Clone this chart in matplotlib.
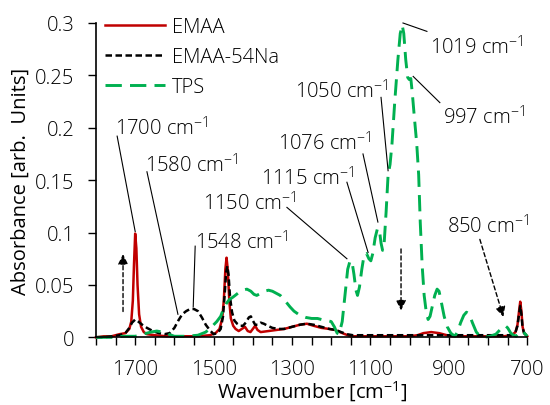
import matplotlib
matplotlib.use("Agg")
import matplotlib.pyplot as plt
from matplotlib.ticker import MultipleLocator, FixedLocator

plt.rcParams["font.family"] = ["Open Sans", "DejaVu Sans"]
plt.rcParams["font.weight"] = "light"
plt.rcParams["mathtext.fontset"] = "custom"
plt.rcParams["mathtext.rm"] = "Open Sans:light"
plt.rcParams["mathtext.it"] = "Open Sans:light"

RED = "#C00000"
GREEN = "#00B050"
FS = 14.5
CM = r"cm$^{\mathregular{-1}}$"

# EMAA
wn_emaa = [1800, 1780, 1760, 1740, 1725, 1715, 1710, 1706, 1703, 1700, 1697, 1694,
           1690, 1685, 1678, 1670, 1650, 1620, 1580, 1540, 1510, 1495, 1485, 1478,
           1474, 1470, 1467, 1464, 1460, 1456, 1450, 1444, 1436, 1428, 1420, 1413,
           1406, 1400, 1394, 1388, 1380, 1360, 1340, 1320, 1300, 1280, 1262, 1245,
           1225, 1205, 1190, 1178, 1165, 1150, 1100, 1050, 1000, 980, 965, 945, 925,
           905, 890, 850, 800, 760, 740, 730, 725, 721, 718, 715, 712, 708, 700]
abs_emaa = [0.000, 0.001, 0.001, 0.003, 0.004, 0.008, 0.015, 0.035, 0.070, 0.099, 0.085, 0.050,
            0.022, 0.010, 0.005, 0.003, 0.002, 0.001, 0.001, 0.001, 0.002, 0.004, 0.008, 0.018,
            0.035, 0.065, 0.076, 0.065, 0.035, 0.018, 0.011, 0.008, 0.006, 0.008, 0.010, 0.006,
            0.005, 0.008, 0.011, 0.007, 0.005, 0.006, 0.007, 0.008, 0.010, 0.012, 0.013, 0.011,
            0.009, 0.008, 0.007, 0.005, 0.003, 0.001, 0.001, 0.001, 0.001, 0.002, 0.004, 0.005, 0.004,
            0.002, 0.001, 0.001, 0.001, 0.001, 0.002, 0.005, 0.012, 0.025, 0.034, 0.025, 0.010, 0.004, 0.001]

# EMAA-54Na
wn_na = [1800, 1780, 1760, 1740, 1725, 1715, 1708, 1700, 1692, 1682, 1670, 1655,
         1640, 1625, 1612, 1600, 1590, 1580, 1570, 1560, 1550, 1540, 1530, 1520,
         1510, 1500, 1490, 1482, 1476, 1472, 1468, 1465, 1462, 1458, 1453, 1447,
         1440, 1432, 1425, 1418, 1410, 1405, 1400, 1394, 1388, 1380, 1372, 1362,
         1350, 1335, 1320, 1300, 1280, 1262, 1245, 1225, 1205, 1188, 1175, 1160,
         1145, 1100, 1000, 900, 800, 740, 730, 725, 721, 718, 715, 712, 708, 700]
abs_na = [0.000, 0.000, 0.001, 0.002, 0.004, 0.009, 0.014, 0.017, 0.015, 0.012, 0.009, 0.006,
          0.004, 0.003, 0.004, 0.009, 0.016, 0.022, 0.025, 0.027, 0.027, 0.025, 0.019, 0.012,
          0.007, 0.003, 0.004, 0.008, 0.020, 0.040, 0.062, 0.068, 0.060, 0.038, 0.024, 0.016,
          0.013, 0.011, 0.011, 0.014, 0.019, 0.020, 0.016, 0.012, 0.012, 0.014, 0.013, 0.011,
          0.009, 0.008, 0.008, 0.010, 0.012, 0.013, 0.012, 0.010, 0.008, 0.007, 0.005, 0.003,
          0.002, 0.002, 0.002, 0.002, 0.002, 0.002, 0.005, 0.011, 0.022, 0.030, 0.022, 0.009, 0.004, 0.001]

# TPS
wn_tps = [1800, 1760, 1730, 1700, 1680, 1660, 1645, 1630, 1615, 1600, 1570, 1540,
          1520, 1505, 1492, 1482, 1475, 1468, 1460, 1452, 1445, 1435, 1425, 1415,
          1405, 1397, 1390, 1380, 1370, 1360, 1350, 1340, 1330, 1318, 1305, 1295,
          1280, 1265, 1250, 1235, 1225, 1210, 1200, 1192, 1185, 1180, 1172, 1165,
          1158, 1152, 1147, 1142, 1137, 1133, 1128, 1122, 1116, 1110, 1104, 1099,
          1094, 1088, 1082, 1077, 1073, 1069, 1065, 1060, 1055, 1050, 1045, 1038,
          1030, 1024, 1019, 1015, 1010, 1005, 1001, 997, 993, 988, 982, 977, 973,
          968, 963, 958, 953, 948, 942, 936, 930, 925, 920, 912, 904, 895, 885,
          878, 870, 862, 855, 848, 840, 830, 820, 810, 795, 780, 770, 762, 756,
          750, 742, 735, 728, 720, 712, 705, 700]
abs_tps = [0.000, 0.000, 0.001, 0.001, 0.003, 0.005, 0.006, 0.005, 0.003, 0.001, 0.001, 0.002,
           0.005, 0.010, 0.015, 0.020, 0.027, 0.032, 0.036, 0.038, 0.040, 0.043, 0.045, 0.046,
           0.044, 0.041, 0.040, 0.042, 0.044, 0.045, 0.044, 0.042, 0.040, 0.035, 0.029, 0.025,
           0.021, 0.019, 0.018, 0.018, 0.017, 0.016, 0.015, 0.010, 0.004, 0.003, 0.015, 0.040,
           0.065, 0.073, 0.072, 0.060, 0.045, 0.040, 0.048, 0.065, 0.079, 0.080, 0.075, 0.073,
           0.080, 0.095, 0.104, 0.102, 0.090, 0.083, 0.090, 0.120, 0.155, 0.165, 0.185, 0.225,
           0.265, 0.290, 0.298, 0.290, 0.265, 0.248, 0.246, 0.247, 0.232, 0.210, 0.185, 0.155, 0.110,
           0.068, 0.040, 0.025, 0.017, 0.020, 0.030, 0.040, 0.046, 0.044, 0.035, 0.020, 0.010, 0.004, 0.001,
           0.005, 0.014, 0.021, 0.024, 0.022, 0.014, 0.005, 0.001, 0.000, 0.001, 0.003, 0.007, 0.010, 0.011,
           0.009, 0.004, 0.002, 0.001, 0.004, 0.006, 0.003, 0.001]

x_labels = [1700, 1500, 1300, 1100, 900, 700]
y_ticks = [0, 0.05, 0.1, 0.15, 0.2, 0.25, 0.3]
y_labels = ["0", "0.05", "0.1", "0.15", "0.2", "0.25", "0.3"]

# peak labels: text, text position, line start, line end
peaks = [
    ("1700", (1752, 0.200), (1746, 0.192), (1700, 0.101)),
    ("1580", (1676, 0.165), (1670, 0.158), (1591, 0.022)),
    ("1548", (1548, 0.091), (1547, 0.087), (1552, 0.029)),
    ("1150", (1528, 0.128), (1313, 0.124), (1160, 0.075)),
    ("1115", (1378, 0.152), (1160, 0.148), (1106, 0.081)),
    ("1076", (1337, 0.186), (1119, 0.175), (1081, 0.110)),
    ("1050", (1293, 0.235), (1073, 0.229), (1055, 0.159)),
    ("1019", (949, 0.277), (1017, 0.300), (956, 0.292)),
    ("997", (916, 0.210), (991, 0.249), (923, 0.224)),
]
arrows = [((1731, 0.022), (1731, 0.082)),
          ((1022, 0.087), (1022, 0.023)),
          ((823, 0.096), (759, 0.017))]

fig = plt.figure(figsize=(5.5, 4.06), dpi=100)
ax = fig.add_axes([0.1745, 0.1667, 0.9587 - 0.1745, 0.9409 - 0.1667])

ax.plot(wn_emaa, abs_emaa, color=RED, lw=1.8, label="EMAA", clip_on=False)
ax.plot(wn_na, abs_na, color="black", lw=1.8, dashes=(2.6, 1.4), label="EMAA-54Na", clip_on=False)
ax.plot(wn_tps, abs_tps, color=GREEN, lw=2.1, dashes=(5.6, 2.8), label="TPS", clip_on=False)

for lab, tpos, p0, p1 in peaks:
    ax.text(tpos[0], tpos[1], f"{lab} {CM}", fontsize=FS, ha="left", va="center")
    ax.plot([p0[0], p1[0]], [p0[1], p1[1]], color="black", lw=0.8, clip_on=False)
ax.text(906, 0.106, f"850 {CM}", fontsize=FS, ha="left", va="center")

for p0, p1 in arrows:
    ax.annotate("", xy=p1, xytext=p0,
                arrowprops=dict(arrowstyle="-|>", color="black", lw=1.0,
                                linestyle=(0, (3, 2)), mutation_scale=15))

ax.set_xlim(1800, 700)
ax.set_ylim(0, 0.3)
ax.xaxis.set_major_locator(FixedLocator(x_labels))
ax.xaxis.set_minor_locator(MultipleLocator(50))
ax.set_yticks(y_ticks)
ax.set_yticklabels(y_labels)
ax.tick_params(which="both", direction="out", length=5.5, width=1, labelsize=FS)
ax.tick_params(axis="x", pad=10)
ax.tick_params(axis="y", pad=10)
for s in ("top", "right"):
    ax.spines[s].set_visible(False)
for s in ("left", "bottom"):
    ax.spines[s].set_linewidth(1.2)

ax.set_xlabel(f"Wavenumber [{CM}]", fontsize=FS, labelpad=0)
ax.set_ylabel("Absorbance [arb.  Units]", fontsize=FS, labelpad=3)

ax.legend(loc="upper left", bbox_to_anchor=(0.02, 1.018), frameon=False, fontsize=FS,
          handlelength=3.0, handletextpad=0.35, labelspacing=0.5,
          borderpad=0, borderaxespad=0)

fig.savefig("out.png", dpi=100)
